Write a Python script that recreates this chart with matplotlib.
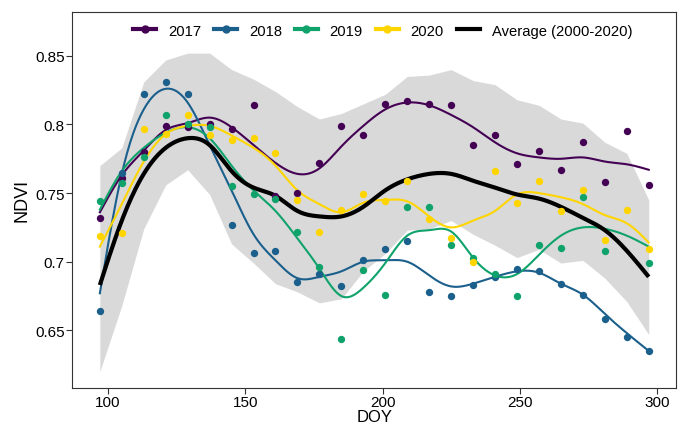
import numpy as np
import matplotlib
matplotlib.use("Agg")
import matplotlib.pyplot as plt
from matplotlib.lines import Line2D

plt.rcParams['font.family'] = ['Liberation Sans', 'DejaVu Sans']

nan = np.nan
doy = [97, 105, 113, 121, 129, 137, 145, 153, 161, 169, 177, 185, 193,
       201, 209, 217, 225, 233, 241, 249, 257, 265, 273, 281, 289, 297]

# observed NDVI per year (dots)
pts_2017 = [0.732, 0.761, 0.780, 0.799, 0.798, 0.800, 0.797, 0.814, 0.748, 0.750, 0.772, 0.799, 0.792,
            0.815, 0.817, 0.815, 0.814, 0.785, 0.792, 0.771, 0.781, 0.767, 0.787, 0.758, 0.795, 0.756]
pts_2018 = [0.664, 0.765, 0.822, 0.831, 0.822, nan, 0.727, 0.706, 0.708, 0.685, 0.691, 0.682, 0.701,
            0.709, 0.715, 0.678, 0.675, 0.683, 0.689, 0.695, 0.693, 0.684, 0.676, 0.658, 0.645, 0.635]
pts_2019 = [0.744, 0.757, 0.776, 0.807, 0.800, 0.798, 0.755, 0.749, 0.746, 0.722, 0.696, 0.644, 0.694,
            0.676, 0.740, 0.740, 0.712, 0.703, 0.691, 0.675, 0.712, 0.710, 0.747, 0.708, nan, 0.699]
pts_2020 = [0.719, 0.721, 0.797, 0.793, 0.807, 0.792, 0.789, 0.790, 0.779, 0.745, 0.722, 0.738, 0.749,
            0.744, 0.759, 0.731, 0.717, 0.700, 0.766, 0.743, 0.759, 0.737, 0.752, 0.716, 0.738, 0.709]

# smoothed curves at the same DOYs
fit_2017 = [0.736, 0.763, 0.781, 0.796, 0.801, 0.805, 0.798, 0.785, 0.772, 0.764, 0.768, 0.784, 0.799,
            0.811, 0.816, 0.814, 0.807, 0.798, 0.787, 0.779, 0.776, 0.775, 0.776, 0.773, 0.771, 0.767]
fit_2018 = [0.677, 0.764, 0.811, 0.826, 0.816, 0.785, 0.752, 0.720, 0.701, 0.688, 0.689, 0.693, 0.700,
            0.701, 0.700, 0.690, 0.682, 0.684, 0.689, 0.693, 0.692, 0.684, 0.676, 0.662, 0.648, 0.635]
fit_2019 = [0.738, 0.766, 0.783, 0.794, 0.798, 0.790, 0.770, 0.752, 0.737, 0.717, 0.695, 0.675, 0.681,
            0.699, 0.719, 0.723, 0.722, 0.703, 0.690, 0.691, 0.705, 0.719, 0.725, 0.724, 0.719, 0.711]
fit_2020 = [0.711, 0.742, 0.773, 0.793, 0.799, 0.799, 0.792, 0.783, 0.770, 0.752, 0.742, 0.736, 0.743,
            0.745, 0.744, 0.733, 0.725, 0.730, 0.737, 0.749, 0.750, 0.747, 0.742, 0.734, 0.728, 0.714]
avg_2000_2020 = [0.683, 0.730, 0.764, 0.783, 0.790, 0.785, 0.766, 0.754, 0.748, 0.737, 0.733, 0.733, 0.740,
                 0.752, 0.760, 0.764, 0.764, 0.759, 0.754, 0.749, 0.746, 0.740, 0.732, 0.723, 0.708, 0.689]

# min / max envelope 2000-2020
band_low = [0.620, 0.668, 0.724, 0.756, 0.767, 0.749, 0.713, 0.699, 0.684, 0.678, 0.670, 0.673, 0.693,
            0.706, 0.723, 0.724, 0.730, 0.720, 0.712, 0.703, 0.709, 0.699, 0.701, 0.688, 0.671, 0.647]
band_high = [0.770, 0.783, 0.831, 0.847, 0.852, 0.852, 0.840, 0.833, 0.824, 0.813, 0.804, 0.808, 0.815,
             0.822, 0.835, 0.836, 0.840, 0.832, 0.829, 0.818, 0.814, 0.804, 0.801, 0.787, 0.779, 0.745]

years = ['2017', '2018', '2019', '2020']
colors = ['#440154', '#1B5F8C', '#0FA36B', '#FFD500']


def spline(x, y, num=400):
    # natural cubic spline through the read-off values
    x = np.asarray(x, float)
    y = np.asarray(y, float)
    n = len(x)
    h = np.diff(x)
    A = np.zeros((n, n))
    b = np.zeros(n)
    A[0, 0] = A[-1, -1] = 1
    for i in range(1, n - 1):
        A[i, i - 1] = h[i - 1]
        A[i, i] = 2 * (h[i - 1] + h[i])
        A[i, i + 1] = h[i]
        b[i] = 3 * ((y[i + 1] - y[i]) / h[i] - (y[i] - y[i - 1]) / h[i - 1])
    c = np.linalg.solve(A, b)
    bb = (y[1:] - y[:-1]) / h - h * (2 * c[:-1] + c[1:]) / 3
    d = (c[1:] - c[:-1]) / (3 * h)
    xs = np.linspace(x[0], x[-1], num)
    idx = np.clip(np.searchsorted(x, xs) - 1, 0, n - 2)
    dx = xs - x[idx]
    return xs, y[idx] + bb[idx] * dx + c[idx] * dx ** 2 + d[idx] * dx ** 3


fig = plt.figure(figsize=(6.83, 4.27), dpi=100)
ax = fig.add_axes([0.106, 0.090, 0.884, 0.880])

ax.fill_between(doy, band_low, band_high, color='#D9D9D9', lw=0, zorder=1)

fits = [fit_2017, fit_2018, fit_2019, fit_2020]
pts = [pts_2017, pts_2018, pts_2019, pts_2020]
for f, c in zip(fits, colors):
    xs, ys = spline(doy, f)
    ax.plot(xs, ys, color=c, lw=1.5, zorder=3)

xs, ys = spline(doy, avg_2000_2020)
ax.plot(xs, ys, color='black', lw=3.0, zorder=4, solid_capstyle='butt')

for p, c in zip(pts, colors):
    ax.scatter(doy, p, s=28, color=c, lw=0, zorder=5)

ax.set_xlim(87, 307)
ax.set_ylim(0.6083, 0.8821)
ax.set_xticks([100, 150, 200, 250, 300])
ax.set_yticks([0.65, 0.70, 0.75, 0.80, 0.85])
ax.set_yticklabels(['0.65', '0.7', '0.75', '0.8', '0.85'])
ax.tick_params(axis='both', direction='out', length=4, width=0.8, color='#333333',
               labelsize=11, labelcolor='black', pad=1.5)
for s in ax.spines.values():
    s.set_color('#333333')
    s.set_linewidth(0.8)
ax.set_xlabel('DOY', fontsize=12, labelpad=0)
ax.set_ylabel('NDVI', fontsize=13, labelpad=3)

handles = [Line2D([], [], color=c, lw=3, marker='o', markersize=5) for c in colors]
handles.append(Line2D([], [], color='black', lw=3))
ax.legend(handles, years + ['Average (2000-2020)'], loc='center', bbox_to_anchor=(0.514, 0.95),
          ncol=5, frameon=False, fontsize=10.6, handlelength=1.55, handletextpad=0.8,
          columnspacing=0.9, borderpad=0)

plt.savefig('out.png', dpi=100)
